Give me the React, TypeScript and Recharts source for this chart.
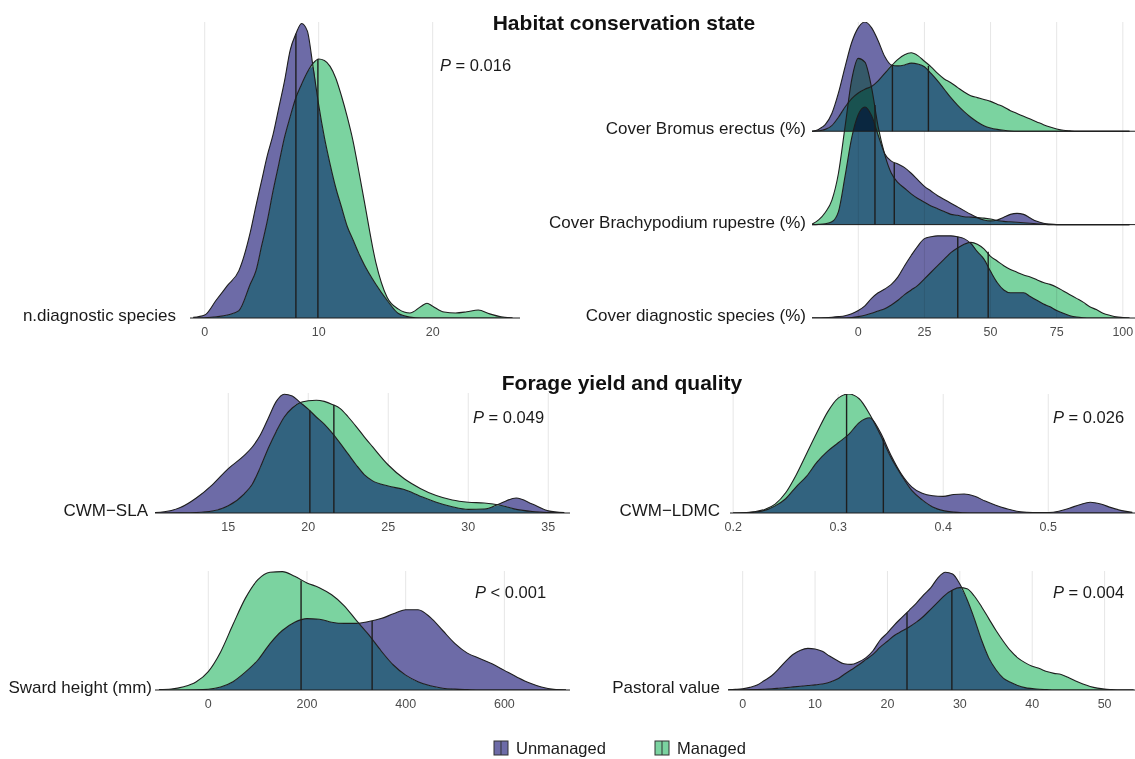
import React from 'react';
import { ComposedChart, Area, Line, XAxis, YAxis, CartesianGrid, ReferenceLine } from 'recharts';

const FONT = "'Liberation Sans', Arial, Helvetica, sans-serif";
const PURPLE = '#6D6BA7';
const GREEN = '#7BD3A0';
const TEAL = '#32637F';
const INK = '#1E1E1E';
const GRID = '#E6E6E6';

// ---------- Panel 1: n.diagnostic species ----------
const nDiagX = [-1, 0, 1, 2, 3, 4, 4.5, 5, 5.5, 6, 6.5, 7, 7.5, 8, 8.5, 9, 9.5, 10, 10.5, 11, 11.5, 12, 12.5, 13, 13.5, 14, 15, 16, 17, 18, 19, 19.5, 20, 21, 22, 23, 24, 25, 26, 27];
const nDiagUnmanaged = [0.002, 0.01, 0.06, 0.11, 0.16, 0.29, 0.38, 0.465, 0.55, 0.62, 0.71, 0.8, 0.905, 0.96, 0.995, 0.97, 0.85, 0.72, 0.61, 0.52, 0.44, 0.375, 0.31, 0.265, 0.22, 0.18, 0.115, 0.06, 0.015, 0.003, 0, 0, 0, 0, 0, 0, 0, 0, 0, 0];
const nDiagManaged = [0, 0.001, 0.004, 0.01, 0.025, 0.115, 0.16, 0.245, 0.33, 0.43, 0.52, 0.61, 0.68, 0.745, 0.79, 0.83, 0.86, 0.875, 0.87, 0.85, 0.81, 0.75, 0.68, 0.6, 0.5, 0.395, 0.19, 0.07, 0.03, 0.017, 0.04, 0.05, 0.04, 0.02, 0.017, 0.021, 0.027, 0.014, 0.004, 0];
const nDiagMedian = [8.0, 9.93];
const nDiagMedianTop = [0.96, 0.875];

// ---------- Panel 2: cover ridges ----------
const coverX = [-17.5, -15, -12.5, -10, -7.5, -5, -2.5, 0, 2.5, 5, 7.5, 10, 12.5, 15, 17.5, 20, 22.5, 25, 27.5, 30, 32.5, 35, 37.5, 40, 42.5, 45, 47.5, 50, 52.5, 55, 57.5, 60, 62.5, 65, 67.5, 70, 72.5, 75, 77.5, 80, 82.5, 85, 87.5, 90, 92.5, 95, 97.5, 100, 102.5];
const bromusUnmanaged = [0, 0.02, 0.07, 0.19, 0.41, 0.69, 0.95, 1.11, 1.17, 1.11, 0.97, 0.8, 0.71, 0.7, 0.71, 0.73, 0.72, 0.69, 0.62, 0.54, 0.45, 0.36, 0.28, 0.21, 0.15, 0.1, 0.06, 0.035, 0.02, 0.01, 0.003, 0, 0, 0, 0, 0, 0, 0, 0, 0, 0, 0, 0, 0, 0, 0, 0, 0, 0];
const bromusManaged = [0, 0.005, 0.02, 0.06, 0.15, 0.26, 0.35, 0.41, 0.45, 0.48, 0.54, 0.62, 0.7, 0.77, 0.82, 0.84, 0.81, 0.75, 0.69, 0.62, 0.56, 0.52, 0.47, 0.42, 0.38, 0.36, 0.34, 0.32, 0.29, 0.26, 0.22, 0.19, 0.16, 0.13, 0.1, 0.07, 0.045, 0.025, 0.01, 0.004, 0, 0, 0, 0, 0, 0, 0, 0, 0];
const brachyUnmanaged = [0, 0.003, 0.01, 0.03, 0.14, 0.52, 0.93, 1.18, 1.26, 1.17, 0.96, 0.76, 0.68, 0.65, 0.61, 0.55, 0.48, 0.41, 0.36, 0.31, 0.27, 0.23, 0.19, 0.15, 0.11, 0.075, 0.05, 0.04, 0.05, 0.08, 0.11, 0.12, 0.11, 0.07, 0.035, 0.015, 0.005, 0, 0, 0, 0, 0, 0, 0, 0, 0, 0, 0, 0];
const brachyManaged = [0.005, 0.05, 0.13, 0.26, 0.55, 1.05, 1.55, 1.78, 1.74, 1.47, 1.05, 0.75, 0.55, 0.45, 0.39, 0.33, 0.28, 0.24, 0.2, 0.17, 0.14, 0.11, 0.1, 0.085, 0.08, 0.075, 0.07, 0.06, 0.045, 0.035, 0.03, 0.025, 0.02, 0.015, 0.01, 0.005, 0, 0, 0, 0, 0, 0, 0, 0, 0, 0, 0, 0, 0];
const diagCoverUnmanaged = [0, 0, 0.003, 0.008, 0.015, 0.025, 0.045, 0.08, 0.13, 0.21, 0.27, 0.31, 0.36, 0.44, 0.56, 0.67, 0.77, 0.85, 0.87, 0.88, 0.88, 0.88, 0.87, 0.85, 0.8, 0.71, 0.63, 0.5, 0.38, 0.3, 0.27, 0.27, 0.27, 0.23, 0.19, 0.15, 0.12, 0.08, 0.05, 0.025, 0.01, 0.003, 0, 0, 0, 0, 0, 0, 0];
const diagCoverManaged = [0, 0, 0, 0, 0, 0, 0.005, 0.015, 0.03, 0.05, 0.075, 0.1, 0.14, 0.19, 0.25, 0.3, 0.35, 0.42, 0.49, 0.56, 0.63, 0.7, 0.75, 0.79, 0.81, 0.79, 0.74, 0.66, 0.61, 0.56, 0.52, 0.49, 0.46, 0.44, 0.41, 0.38, 0.36, 0.33, 0.29, 0.25, 0.21, 0.17, 0.12, 0.09, 0.05, 0.03, 0.012, 0.005, 0];
const bromusMedian = [12.9, 26.5];
const bromusMedianTop = [0.71, 0.7];
const brachyMedian = [13.6, 6.3];
const brachyMedianTop = [0.66, 1.28];
const diagCoverMedian = [37.6, 49.1];
const diagCoverMedianTop = [0.87, 0.71];

// ---------- Panel 3: CWM-SLA ----------
const slaX = [10, 11, 12, 13, 14, 15, 16, 16.5, 17, 17.5, 18, 18.5, 19, 19.5, 20, 20.5, 21, 21.5, 22, 22.5, 23, 23.5, 24, 25, 26, 27, 28, 29, 30, 31, 32, 33, 34, 35, 36];
const slaUnmanaged = [0.002, 0.01, 0.045, 0.125, 0.235, 0.37, 0.48, 0.55, 0.65, 0.79, 0.93, 0.99, 0.975, 0.92, 0.865, 0.8, 0.74, 0.665, 0.58, 0.49, 0.4, 0.32, 0.27, 0.225, 0.195, 0.14, 0.09, 0.052, 0.03, 0.033, 0.08, 0.125, 0.075, 0.018, 0.003];
const slaManaged = [0, 0, 0.001, 0.004, 0.016, 0.06, 0.16, 0.24, 0.38, 0.54, 0.68, 0.8, 0.875, 0.92, 0.935, 0.94, 0.93, 0.905, 0.87, 0.8, 0.72, 0.635, 0.555, 0.4, 0.285, 0.205, 0.145, 0.108, 0.09, 0.083, 0.065, 0.03, 0.012, 0.003, 0];
const slaMedian = [20.1, 21.6];
const slaMedianTop = [0.855, 0.9];

// ---------- Panel 4: CWM-LDMC ----------
const ldmcX = [0.2, 0.21, 0.22, 0.23, 0.24, 0.25, 0.26, 0.27, 0.28, 0.29, 0.3, 0.31, 0.32, 0.33, 0.34, 0.35, 0.36, 0.37, 0.38, 0.39, 0.4, 0.41, 0.42, 0.43, 0.44, 0.45, 0.46, 0.47, 0.48, 0.49, 0.5, 0.51, 0.52, 0.53, 0.54, 0.55, 0.56, 0.57, 0.58];
const ldmcUnmanaged = [0, 0.001, 0.007, 0.022, 0.06, 0.12, 0.22, 0.31, 0.43, 0.52, 0.59, 0.66, 0.76, 0.8, 0.68, 0.49, 0.33, 0.22, 0.165, 0.145, 0.14, 0.155, 0.16, 0.14, 0.1, 0.065, 0.037, 0.015, 0.006, 0.003, 0.004, 0.015, 0.04, 0.07, 0.09, 0.075, 0.045, 0.02, 0.005];
const ldmcManaged = [0, 0.002, 0.01, 0.03, 0.075, 0.17, 0.32, 0.5, 0.68, 0.85, 0.965, 1.0, 0.96, 0.83, 0.66, 0.47, 0.32, 0.19, 0.11, 0.05, 0.02, 0.007, 0.002, 0, 0, 0, 0, 0, 0, 0, 0, 0, 0, 0, 0, 0, 0, 0, 0];
const ldmcMedian = [0.343, 0.308];
const ldmcMedianTop = [0.63, 1.0];

// ---------- Panel 5: Sward height ----------
const swardX = [-100, -75, -50, -25, 0, 25, 50, 75, 100, 125, 150, 175, 200, 225, 250, 275, 300, 325, 350, 375, 400, 425, 450, 475, 500, 525, 550, 575, 600, 625, 650, 675, 700, 725];
const swardUnmanaged = [0, 0, 0, 0.001, 0.006, 0.025, 0.07, 0.15, 0.25, 0.39, 0.5, 0.57, 0.6, 0.595, 0.57, 0.56, 0.56, 0.575, 0.6, 0.64, 0.675, 0.675, 0.61, 0.5, 0.39, 0.31, 0.265, 0.22, 0.165, 0.11, 0.06, 0.025, 0.005, 0];
const swardManaged = [0.004, 0.009, 0.028, 0.068, 0.155, 0.32, 0.55, 0.77, 0.925, 0.99, 0.995, 0.955, 0.9, 0.86, 0.8, 0.71, 0.585, 0.465, 0.33, 0.21, 0.125, 0.07, 0.035, 0.015, 0.007, 0.003, 0, 0, 0, 0, 0, 0, 0, 0];
const swardMedian = [332, 188];
const swardMedianTop = [0.58, 0.92];

// ---------- Panel 6: Pastoral value ----------
const pastoralX = [-2, -1, 0, 1, 2, 3, 4, 5, 6, 7, 8, 9, 10, 11, 12, 13, 14, 15, 16, 17, 18, 19, 20, 21, 22, 23, 24, 25, 26, 27, 28, 29, 30, 31, 32, 33, 34, 35, 36, 37, 38, 39, 40, 41, 42, 43, 44, 45, 46, 47, 48, 49, 50, 51, 52, 53, 54];
const pastoralUnmanaged = [0.002, 0.005, 0.01, 0.022, 0.042, 0.08, 0.12, 0.18, 0.245, 0.3, 0.335, 0.35, 0.345, 0.325, 0.285, 0.25, 0.22, 0.215, 0.235, 0.27, 0.33, 0.42, 0.48, 0.55, 0.61, 0.67, 0.73, 0.8, 0.86, 0.945, 0.99, 0.975, 0.89, 0.76, 0.6, 0.42, 0.27, 0.17, 0.1, 0.065, 0.038, 0.02, 0.012, 0.006, 0.003, 0, 0, 0, 0, 0, 0, 0, 0, 0, 0, 0, 0];
const pastoralManaged = [0, 0.001, 0.002, 0.003, 0.004, 0.006, 0.01, 0.015, 0.02, 0.026, 0.032, 0.038, 0.043, 0.05, 0.065, 0.09, 0.13, 0.17, 0.21, 0.255, 0.3, 0.36, 0.41, 0.46, 0.495, 0.53, 0.57, 0.62, 0.68, 0.74, 0.8, 0.84, 0.86, 0.85, 0.79, 0.7, 0.6, 0.5, 0.41, 0.33, 0.27, 0.23, 0.2, 0.18, 0.155, 0.14, 0.13, 0.105, 0.075, 0.05, 0.03, 0.016, 0.007, 0.003, 0, 0, 0];
const pastoralMedian = [22.7, 28.9];
const pastoralMedianTop = [0.65, 0.84];

// ---------- labels ----------
const titles = ['Habitat conservation state', 'Forage yield and quality'];
const pValues = ['= 0.016', '= 0.049', '= 0.026', '< 0.001', '= 0.004'];
const groups = ['Unmanaged', 'Managed'];

type Ridge = {
  key: string;
  label: string;
  offset: number;
  u: number[];
  m: number[];
  med: number[];
  medTop: number[];
};

type PanelCfg = {
  left: number;
  top: number;
  width: number;
  height: number;
  marginTop: number;
  marginRight: number;
  axisWidth: number;
  xAxisHeight: number;
  gap: number;
  xs: number[];
  xDomain: [number, number];
  xTicks: number[];
  yMax: number;
  ridges: Ridge[];
  blendLower?: boolean;
};

function Panel({ cfg }: { cfg: PanelCfg }) {
  const rows = cfg.xs.map((x, i) => {
    const row: any = { x };
    cfg.ridges.forEach((r) => {
      const u = r.u[i];
      const m = r.m[i];
      const lo = Math.min(u, m);
      row[r.key + 'Base'] = [r.offset, r.offset + lo];
      row[r.key + 'U'] = [r.offset + lo, r.offset + u];
      row[r.key + 'M'] = [r.offset + lo, r.offset + m];
      row[r.key + 'UTop'] = r.offset + u;
      row[r.key + 'MTop'] = r.offset + m;
    });
    return row;
  });
  const labelByOffset: Record<number, string> = {};
  cfg.ridges.forEach((r) => (labelByOffset[r.offset] = r.label));

  const items: React.ReactNode[] = [];
  cfg.ridges.forEach((r, idx) => {
    const cls = cfg.blendLower && idx > 0 ? 'ridge-blend' : undefined;
    items.push(
      <Area key={r.key + 'a1'} className={cls} type="monotone" dataKey={r.key + 'Base'} fill={TEAL} fillOpacity={1} stroke="none" isAnimationActive={false} dot={false} activeDot={false} />,
      <Area key={r.key + 'a2'} className={cls} type="monotone" dataKey={r.key + 'U'} fill={PURPLE} fillOpacity={1} stroke="none" isAnimationActive={false} dot={false} activeDot={false} />,
      <Area key={r.key + 'a3'} className={cls} type="monotone" dataKey={r.key + 'M'} fill={GREEN} fillOpacity={1} stroke="none" isAnimationActive={false} dot={false} activeDot={false} />,
      <ReferenceLine key={r.key + 'bl'} y={r.offset} stroke={INK} strokeWidth={1} />,
      <Line key={r.key + 'l1'} type="monotone" dataKey={r.key + 'UTop'} stroke={INK} strokeWidth={1.1} dot={false} activeDot={false} isAnimationActive={false} />,
      <Line key={r.key + 'l2'} type="monotone" dataKey={r.key + 'MTop'} stroke={INK} strokeWidth={1.1} dot={false} activeDot={false} isAnimationActive={false} />,
      ...r.med.map((mv, j) => (
        <ReferenceLine
          key={r.key + 'med' + j}
          segment={[
            { x: mv, y: r.offset },
            { x: mv, y: r.offset + r.medTop[j] },
          ]}
          stroke={INK}
          strokeWidth={1.4}
        />
      ))
    );
  });

  return (
    <div style={{ position: 'absolute', left: cfg.left, top: cfg.top }}>
      <ComposedChart
        width={cfg.width}
        height={cfg.height}
        data={rows}
        margin={{ top: cfg.marginTop, right: cfg.marginRight, bottom: 0, left: 0 }}
      >
        <CartesianGrid horizontal={false} syncWithTicks stroke={GRID} strokeWidth={1} />
        <XAxis
          type="number"
          dataKey="x"
          domain={cfg.xDomain}
          ticks={cfg.xTicks}
          allowDataOverflow
          interval={0}
          tickLine={false}
          axisLine={false}
          tickSize={0}
          tickMargin={9}
          height={cfg.xAxisHeight}
          tick={{ fontSize: 12.5, fill: '#4D4D4D', fontFamily: FONT }}
        />
        <YAxis
          type="number"
          domain={[0, cfg.yMax]}
          ticks={cfg.ridges.map((r) => r.offset)}
          allowDataOverflow
          interval={0}
          width={cfg.axisWidth}
          tickLine={false}
          axisLine={false}
          tickSize={0}
          tickMargin={cfg.gap}
          tick={(props: any) => (
            <text
              x={props.x}
              y={props.y - 3}
              dy="0.36em"
              textAnchor="end"
              fontSize={17}
              fontFamily={FONT}
              fill="#1A1A1A"
            >
              {labelByOffset[props.payload.value]}
            </text>
          )}
        />
        {items}
      </ComposedChart>
    </div>
  );
}

const panels: PanelCfg[] = [
  {
    left: 0, top: 0, width: 520, height: 345, marginTop: 22, marginRight: 0, axisWidth: 190, xAxisHeight: 27, gap: 14,
    xs: nDiagX, xDomain: [-1.29, 27.66], xTicks: [0, 10, 20], yMax: 1,
    ridges: [{ key: 'nd', label: 'n.diagnostic species', offset: 0, u: nDiagUnmanaged, m: nDiagManaged, med: nDiagMedian, medTop: nDiagMedianTop }],
  },
  {
    left: 530, top: 0, width: 605, height: 345, marginTop: 22, marginRight: 0, axisWidth: 282, xAxisHeight: 27, gap: 6,
    xs: coverX, xDomain: [-17.5, 104.6], xTicks: [0, 25, 50, 75, 100], yMax: 3.17, blendLower: true,
    ridges: [
      { key: 'bro', label: 'Cover Bromus erectus (%)', offset: 2, u: bromusUnmanaged, m: bromusManaged, med: bromusMedian, medTop: bromusMedianTop },
      { key: 'bra', label: 'Cover Brachypodium rupestre (%)', offset: 1, u: brachyUnmanaged, m: brachyManaged, med: brachyMedian, medTop: brachyMedianTop },
      { key: 'dia', label: 'Cover diagnostic species (%)', offset: 0, u: diagCoverUnmanaged, m: diagCoverManaged, med: diagCoverMedian, medTop: diagCoverMedianTop },
    ],
  },
  {
    left: 0, top: 360, width: 570, height: 180, marginTop: 33, marginRight: 0, axisWidth: 155, xAxisHeight: 27, gap: 7,
    xs: slaX, xDomain: [10.42, 36.36], xTicks: [15, 20, 25, 30, 35], yMax: 1,
    ridges: [{ key: 'sla', label: 'CWM\u2212SLA', offset: 0, u: slaUnmanaged, m: slaManaged, med: slaMedian, medTop: slaMedianTop }],
  },
  {
    left: 575, top: 360, width: 560, height: 180, marginTop: 34, marginRight: 0, axisWidth: 155, xAxisHeight: 27, gap: 10,
    xs: ldmcX, xDomain: [0.197, 0.5826], xTicks: [0.2, 0.3, 0.4, 0.5], yMax: 1,
    ridges: [{ key: 'ldmc', label: 'CWM\u2212LDMC', offset: 0, u: ldmcUnmanaged, m: ldmcManaged, med: ldmcMedian, medTop: ldmcMedianTop }],
  },
  {
    left: 0, top: 540, width: 570, height: 177, marginTop: 31, marginRight: 0, axisWidth: 155, xAxisHeight: 27, gap: 3,
    xs: swardX, xDomain: [-108, 733], xTicks: [0, 200, 400, 600], yMax: 1,
    ridges: [{ key: 'sw', label: 'Sward height (mm)', offset: 0, u: swardUnmanaged, m: swardManaged, med: swardMedian, medTop: swardMedianTop }],
  },
  {
    left: 575, top: 540, width: 560, height: 177, marginTop: 31, marginRight: 0, axisWidth: 153, xAxisHeight: 27, gap: 8,
    xs: pastoralX, xDomain: [-2.03, 54.2], xTicks: [0, 10, 20, 30, 40, 50], yMax: 1,
    ridges: [{ key: 'pv', label: 'Pastoral value', offset: 0, u: pastoralUnmanaged, m: pastoralManaged, med: pastoralMedian, medTop: pastoralMedianTop }],
  },
];

const pPositions = [
  [440, 65],
  [473, 417],
  [1053, 417],
  [475, 592],
  [1053, 592],
];

export default function App() {
  return (
    <div style={{ position: 'absolute', left: 0, top: 0, width: 1135, height: 759, background: '#fff', overflow: 'hidden' }}>
      <style>{'.ridge-blend { mix-blend-mode: multiply; }'}</style>
      {panels.map((cfg, i) => (
        <Panel key={i} cfg={cfg} />
      ))}
      <svg width={1135} height={759} style={{ position: 'absolute', left: 0, top: 0, pointerEvents: 'none' }}>
        <text x={624} y={29.5} textAnchor="middle" fontSize={21} fontWeight="bold" fontFamily={FONT} fill="#111">
          {titles[0]}
        </text>
        <text x={622} y={389.5} textAnchor="middle" fontSize={21} fontWeight="bold" fontFamily={FONT} fill="#111">
          {titles[1]}
        </text>
        {pValues.map((pv, i) => (
          <text key={i} x={pPositions[i][0]} y={pPositions[i][1]} dy="0.36em" fontSize={16.5} fontFamily={FONT} fill="#1A1A1A">
            <tspan fontStyle="italic">P</tspan> {pv}
          </text>
        ))}
        {groups.map((g, i) => {
          const bx = i === 0 ? 494 : 655;
          return (
            <g key={g}>
              <rect x={bx} y={741} width={14} height={14} fill={i === 0 ? PURPLE : GREEN} stroke="#333" strokeWidth={1} />
              <line x1={bx + 7} y1={741} x2={bx + 7} y2={755} stroke="#333" strokeWidth={1} />
              <text x={bx + 22} y={748} dy="0.36em" fontSize={16.5} fontFamily={FONT} fill="#1A1A1A">
                {g}
              </text>
            </g>
          );
        })}
      </svg>
    </div>
  );
}
